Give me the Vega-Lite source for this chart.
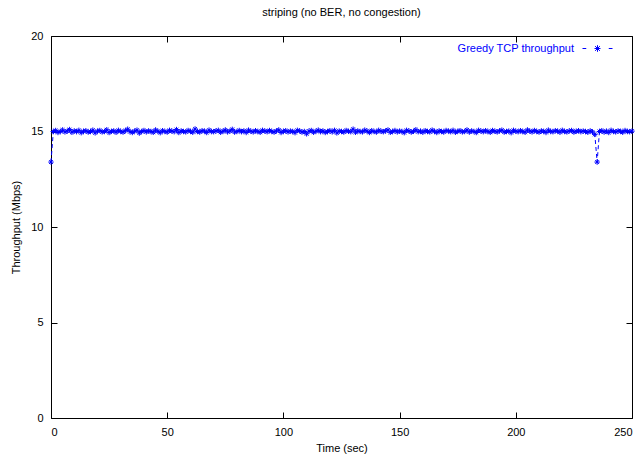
{
 "$schema": "https://vega.github.io/schema/vega-lite/v6.json",
 "width": 581, "height": 382,
 "autosize": {"type": "none"},
 "padding": {"left": 51, "top": 36, "right": 11, "bottom": 38},
 "title": {"text": "striping (no BER, no congestion)", "fontSize": 11, "font": "Liberation Sans", "fontWeight": "normal", "offset": 12, "color": "black"},
 "config": {
  "view": {"stroke": "black", "strokeWidth": 1},
  "font": "Liberation Sans",
  "axis": {"grid": false, "domain": false, "tickColor": "black", "tickSize": -6, "tickWidth": 1, "labelFontSize": 11, "labelColor": "black", "titleFontSize": 11, "titleFontWeight": "normal", "titleColor": "black"},
  "legend": {"labelColor": "#0000ff", "labelFontSize": 11, "labelAlign": "right", "labelOffset": -39, "padding": 0}
 },
 "data": {"values": [
  {"t":0,"v":13.4},{"t":1,"v":15.0},{"t":2,"v":15.05},{"t":3,"v":14.95},{"t":4,"v":15.0},{"t":5,"v":15.08},{"t":6,"v":14.98},{"t":7,"v":15.02},{"t":8,"v":15.1},{"t":9,"v":14.96},
  {"t":10,"v":15.03},{"t":11,"v":14.99},{"t":12,"v":15.06},{"t":13,"v":14.94},{"t":14,"v":15.01},{"t":15,"v":15.04},{"t":16,"v":14.97},{"t":17,"v":15.0},{"t":18,"v":15.07},{"t":19,"v":14.93},
  {"t":20,"v":15.02},{"t":21,"v":15.05},{"t":22,"v":14.98},{"t":23,"v":15.0},{"t":24,"v":15.09},{"t":25,"v":14.95},{"t":26,"v":15.01},{"t":27,"v":15.03},{"t":28,"v":14.96},{"t":29,"v":15.06},
  {"t":30,"v":15.0},{"t":31,"v":14.97},{"t":32,"v":15.04},{"t":33,"v":15.12},{"t":34,"v":14.99},{"t":35,"v":14.95},{"t":36,"v":15.02},{"t":37,"v":15.07},{"t":38,"v":14.92},{"t":39,"v":15.0},
  {"t":40,"v":15.05},{"t":41,"v":14.98},{"t":42,"v":15.03},{"t":43,"v":15.0},{"t":44,"v":14.96},{"t":45,"v":15.08},{"t":46,"v":15.01},{"t":47,"v":14.94},{"t":48,"v":15.04},{"t":49,"v":15.0},
  {"t":50,"v":14.97},{"t":51,"v":15.06},{"t":52,"v":15.02},{"t":53,"v":14.99},{"t":54,"v":15.1},{"t":55,"v":14.95},{"t":56,"v":15.03},{"t":57,"v":15.0},{"t":58,"v":14.98},{"t":59,"v":15.05},
  {"t":60,"v":15.01},{"t":61,"v":14.96},{"t":62,"v":15.13},{"t":63,"v":15.0},{"t":64,"v":14.97},{"t":65,"v":15.04},{"t":66,"v":15.02},{"t":67,"v":14.95},{"t":68,"v":15.07},{"t":69,"v":15.0},
  {"t":70,"v":14.99},{"t":71,"v":15.03},{"t":72,"v":15.06},{"t":73,"v":14.96},{"t":74,"v":15.01},{"t":75,"v":15.08},{"t":76,"v":14.98},{"t":77,"v":15.02},{"t":78,"v":15.11},{"t":79,"v":14.97},
  {"t":80,"v":15.0},{"t":81,"v":15.05},{"t":82,"v":14.99},{"t":83,"v":15.03},{"t":84,"v":14.95},{"t":85,"v":15.07},{"t":86,"v":15.01},{"t":87,"v":14.98},{"t":88,"v":15.04},{"t":89,"v":15.0},
  {"t":90,"v":14.96},{"t":91,"v":15.06},{"t":92,"v":15.02},{"t":93,"v":14.99},{"t":94,"v":15.05},{"t":95,"v":15.0},{"t":96,"v":14.97},{"t":97,"v":15.03},{"t":98,"v":15.08},{"t":99,"v":14.95},
  {"t":100,"v":15.01},{"t":101,"v":15.04},{"t":102,"v":14.98},{"t":103,"v":15.02},{"t":104,"v":15.0},{"t":105,"v":14.94},{"t":106,"v":15.06},{"t":107,"v":15.03},{"t":108,"v":14.97},{"t":109,"v":15.0},
  {"t":110,"v":14.88},{"t":111,"v":15.02},{"t":112,"v":15.05},{"t":113,"v":14.96},{"t":114,"v":15.01},{"t":115,"v":15.07},{"t":116,"v":14.99},{"t":117,"v":15.03},{"t":118,"v":14.95},{"t":119,"v":15.0},
  {"t":120,"v":15.04},{"t":121,"v":14.98},{"t":122,"v":15.06},{"t":123,"v":14.93},{"t":124,"v":15.02},{"t":125,"v":15.0},{"t":126,"v":14.97},{"t":127,"v":15.05},{"t":128,"v":15.01},{"t":129,"v":14.99},
  {"t":130,"v":15.12},{"t":131,"v":14.96},{"t":132,"v":15.03},{"t":133,"v":15.0},{"t":134,"v":14.98},{"t":135,"v":15.07},{"t":136,"v":15.02},{"t":137,"v":14.95},{"t":138,"v":15.04},{"t":139,"v":15.0},
  {"t":140,"v":14.97},{"t":141,"v":15.06},{"t":142,"v":15.01},{"t":143,"v":14.99},{"t":144,"v":15.03},{"t":145,"v":15.08},{"t":146,"v":14.96},{"t":147,"v":15.0},{"t":148,"v":15.05},{"t":149,"v":14.98},
  {"t":150,"v":15.02},{"t":151,"v":15.0},{"t":152,"v":14.94},{"t":153,"v":15.06},{"t":154,"v":15.03},{"t":155,"v":14.97},{"t":156,"v":15.01},{"t":157,"v":15.09},{"t":158,"v":14.99},{"t":159,"v":15.02},
  {"t":160,"v":14.96},{"t":161,"v":15.04},{"t":162,"v":15.0},{"t":163,"v":14.98},{"t":164,"v":15.07},{"t":165,"v":15.01},{"t":166,"v":14.95},{"t":167,"v":15.03},{"t":168,"v":15.0},{"t":169,"v":14.97},
  {"t":170,"v":15.05},{"t":171,"v":15.02},{"t":172,"v":14.99},{"t":173,"v":15.06},{"t":174,"v":14.96},{"t":175,"v":15.01},{"t":176,"v":15.04},{"t":177,"v":14.98},{"t":178,"v":15.0},{"t":179,"v":15.08},
  {"t":180,"v":14.97},{"t":181,"v":15.03},{"t":182,"v":15.0},{"t":183,"v":14.95},{"t":184,"v":15.06},{"t":185,"v":15.02},{"t":186,"v":14.99},{"t":187,"v":15.04},{"t":188,"v":15.0},{"t":189,"v":14.96},
  {"t":190,"v":15.05},{"t":191,"v":15.01},{"t":192,"v":14.98},{"t":193,"v":15.03},{"t":194,"v":15.07},{"t":195,"v":14.97},{"t":196,"v":15.0},{"t":197,"v":15.02},{"t":198,"v":14.94},{"t":199,"v":15.06},
  {"t":200,"v":15.01},{"t":201,"v":14.99},{"t":202,"v":15.04},{"t":203,"v":15.0},{"t":204,"v":14.96},{"t":205,"v":15.08},{"t":206,"v":15.02},{"t":207,"v":14.98},{"t":208,"v":15.05},{"t":209,"v":15.0},
  {"t":210,"v":14.97},{"t":211,"v":15.03},{"t":212,"v":15.01},{"t":213,"v":14.95},{"t":214,"v":15.07},{"t":215,"v":15.0},{"t":216,"v":14.99},{"t":217,"v":15.04},{"t":218,"v":15.02},{"t":219,"v":14.96},
  {"t":220,"v":15.06},{"t":221,"v":15.0},{"t":222,"v":14.98},{"t":223,"v":15.03},{"t":224,"v":15.05},{"t":225,"v":14.97},{"t":226,"v":15.01},{"t":227,"v":15.04},{"t":228,"v":14.99},{"t":229,"v":15.02},
  {"t":230,"v":15.0},{"t":231,"v":14.96},{"t":232,"v":15.03},{"t":233,"v":14.98},{"t":234,"v":14.85},{"t":235,"v":13.4},{"t":236,"v":15.0},{"t":237,"v":15.04},{"t":238,"v":14.97},{"t":239,"v":15.02},
  {"t":240,"v":14.95},{"t":241,"v":15.06},{"t":242,"v":15.0},{"t":243,"v":14.98},{"t":244,"v":15.03},{"t":245,"v":15.01},{"t":246,"v":14.96},{"t":247,"v":15.05},{"t":248,"v":15.0},{"t":249,"v":14.99},
  {"t":250,"v":15.02}
 ]},
 "layer": [
  {
   "mark": {"type": "line", "strokeDash": [4, 3], "strokeWidth": 1, "color": "#0000ff"},
   "encoding": {
    "x": {"field": "t", "type": "quantitative", "scale": {"domain": [0, 250], "nice": false}, "axis": {"orient": "top", "labels": false, "title": null, "values": [0, 50, 100, 150, 200, 250]}},
    "y": {"field": "v", "type": "quantitative", "scale": {"domain": [0, 20], "nice": false, "zero": false}, "axis": {"orient": "right", "labels": false, "title": null, "values": [0, 5, 10, 15, 20]}}
   }
  },
  {
   "mark": {"type": "point", "shape": "M0,-1V1M-1,0H1M-0.7,-0.7L0.7,0.7M-0.7,0.7L0.7,-0.7", "size": 30, "filled": false, "strokeWidth": 1, "opacity": 1},
   "encoding": {
    "x": {"field": "t", "type": "quantitative", "axis": {"orient": "bottom", "title": "Time (sec)", "values": [0, 50, 100, 150, 200, 250], "labelPadding": 14, "titlePadding": 5}},
    "y": {"field": "v", "type": "quantitative", "axis": {"orient": "left", "title": "Throughput (Mbps)", "values": [0, 5, 10, 15, 20], "labelPadding": 14, "titlePadding": 9}},
    "color": {"datum": "Greedy TCP throughput", "scale": {"range": ["#0000ff"]}, "legend": {"title": null, "orient": "none", "legendX": 531, "legendY": -3, "symbolType": "M-1,0H-0.75M-0.2,0H0.2M0.75,0H1M0,-0.22V0.22M-0.16,-0.16L0.16,0.16M-0.16,0.16L0.16,-0.16", "symbolSize": 900, "symbolStrokeColor": "#0000ff", "symbolStrokeWidth": 1, "symbolFillColor": "transparent"}}
   }
  }
 ],
 "resolve": {"axis": {"x": "independent", "y": "independent"}}
}
